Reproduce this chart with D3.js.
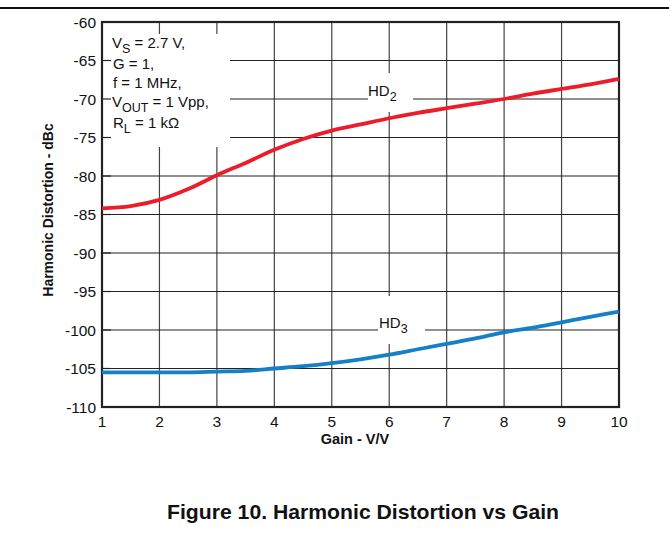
<!DOCTYPE html>
<html><head><meta charset="utf-8">
<script src="https://cdn.jsdelivr.net/npm/d3@7"></script>
<style>body{margin:0;background:#fff}svg{display:block;font-family:"Liberation Sans",Arial,sans-serif}</style>
</head><body>
<svg id="c" width="669" height="540"></svg>
<script>
const gain = [1, 1.5, 2, 2.5, 3, 3.5, 4, 4.5, 5, 5.5, 6, 6.5, 7, 7.5, 8, 8.5, 9, 9.5, 10];
const hd2 = [-84.2, -83.9, -83.1, -81.7, -79.9, -78.3, -76.6, -75.2, -74.1, -73.3, -72.5, -71.8, -71.2, -70.6, -70.0, -69.3, -68.7, -68.1, -67.4];
const hd3 = [-105.5, -105.5, -105.5, -105.5, -105.4, -105.3, -105.0, -104.7, -104.3, -103.8, -103.2, -102.5, -101.8, -101.1, -100.3, -99.7, -99.0, -98.3, -97.6];
const xTicks = [1,2,3,4,5,6,7,8,9,10];
const yTicks = [-60,-65,-70,-75,-80,-85,-90,-95,-100,-105,-110];

const svg = d3.select("#c");
const L=102, R=619, T=22, B=407;
const x = d3.scaleLinear().domain([1,10]).range([L,R]);
const y = d3.scaleLinear().domain([-110,-60]).range([B,T]);

// top page rule
svg.append("line").attr("x1",0).attr("x2",669).attr("y1",8).attr("y2",8).attr("stroke","#111").attr("stroke-width",2);

// grid
const g = svg.append("g");
g.selectAll(".vx").data(xTicks).join("line").attr("x1",d=>x(d)).attr("x2",d=>x(d)).attr("y1",T).attr("y2",B).attr("stroke","#444").attr("stroke-width",1.2);
g.selectAll(".hy").data(yTicks).join("line").attr("x1",L).attr("x2",R).attr("y1",d=>y(d)).attr("y2",d=>y(d)).attr("stroke","#222").attr("stroke-width",1.2);

// white masks
svg.append("rect").attr("x",L+1).attr("y",34).attr("width",127).attr("height",113).attr("fill","#fff");
svg.append("rect").attr("x",368).attr("y",73).attr("width",45).attr("height",39).attr("fill","#fff");
svg.append("rect").attr("x",378).attr("y",296).attr("width",47).attr("height",48).attr("fill","#fff");

// y tick stubs inside
svg.selectAll(".yt").data(yTicks).join("line").attr("x1",L).attr("x2",L+9).attr("y1",d=>y(d)).attr("y2",d=>y(d)).attr("stroke","#222").attr("stroke-width",1.2);

// frame
svg.append("rect").attr("x",L).attr("y",T).attr("width",R-L).attr("height",B-T).attr("fill","none").attr("stroke","#222").attr("stroke-width",2.2);

// curves
const line = d3.line().x((d,i)=>x(gain[i])).y(d=>y(d)).curve(d3.curveMonotoneX);
svg.append("path").attr("d",line(hd2)).attr("fill","none").attr("stroke","#ec1c2a").attr("stroke-width",3.8);
svg.append("path").attr("d",line(hd3)).attr("fill","none").attr("stroke","#1380c8").attr("stroke-width",3.8);

// tick labels
svg.selectAll(".xl").data(xTicks).join("text").attr("x",d=>x(d)).attr("y",427).attr("text-anchor","middle").attr("font-size",15.5).attr("fill","#111").text(d=>d);
svg.selectAll(".yl").data(yTicks).join("text").attr("x",L-6).attr("y",d=>y(d)+5.5).attr("text-anchor","end").attr("font-size",15.5).attr("fill","#111").text(d=>d);

// axis titles
svg.append("text").attr("x",355).attr("y",444).attr("text-anchor","middle").attr("font-size",14.5).attr("font-weight","bold").attr("fill","#111").text("Gain - V/V");
svg.append("text").attr("transform","translate(53,210) rotate(-90)").attr("text-anchor","middle").attr("font-size",14).attr("font-weight","bold").attr("fill","#111").text("Harmonic Distortion - dBc");

// annotation
function sub(x0, y0, parts){
  const tx = svg.append("text").attr("x",x0).attr("y",y0).attr("font-size",15).attr("fill","#111");
  parts.forEach(p=>{
    const s = tx.append("tspan").text(p[0]);
    if(p[1]) s.attr("font-size",12.5).attr("dy",5);
    else if(p[2]) s.attr("dy",-5);
  });
}
sub(112,48,[["V"],["S",1],[" = 2.7 V,",0,1]]);
svg.append("text").attr("x",113).attr("y",69).attr("font-size",15).attr("fill","#111").text("G = 1,");
svg.append("text").attr("x",113).attr("y",88).attr("font-size",15).attr("fill","#111").text("f = 1 MHz,");
sub(112,107,[["V"],["OUT",1],[" = 1 Vpp,",0,1]]);
sub(113,128,[["R"],["L",1],[" = 1 k\u03A9",0,1]]);

sub(368,96,[["HD"],["2",1]]);
sub(379,328,[["HD"],["3",1]]);

// caption
svg.append("text").attr("x",167).attr("y",519).attr("font-size",20.5).attr("font-weight","bold").attr("fill","#111").attr("textLength",392).attr("lengthAdjust","spacingAndGlyphs").text("Figure 10. Harmonic Distortion vs Gain");
</script>
</body></html>
